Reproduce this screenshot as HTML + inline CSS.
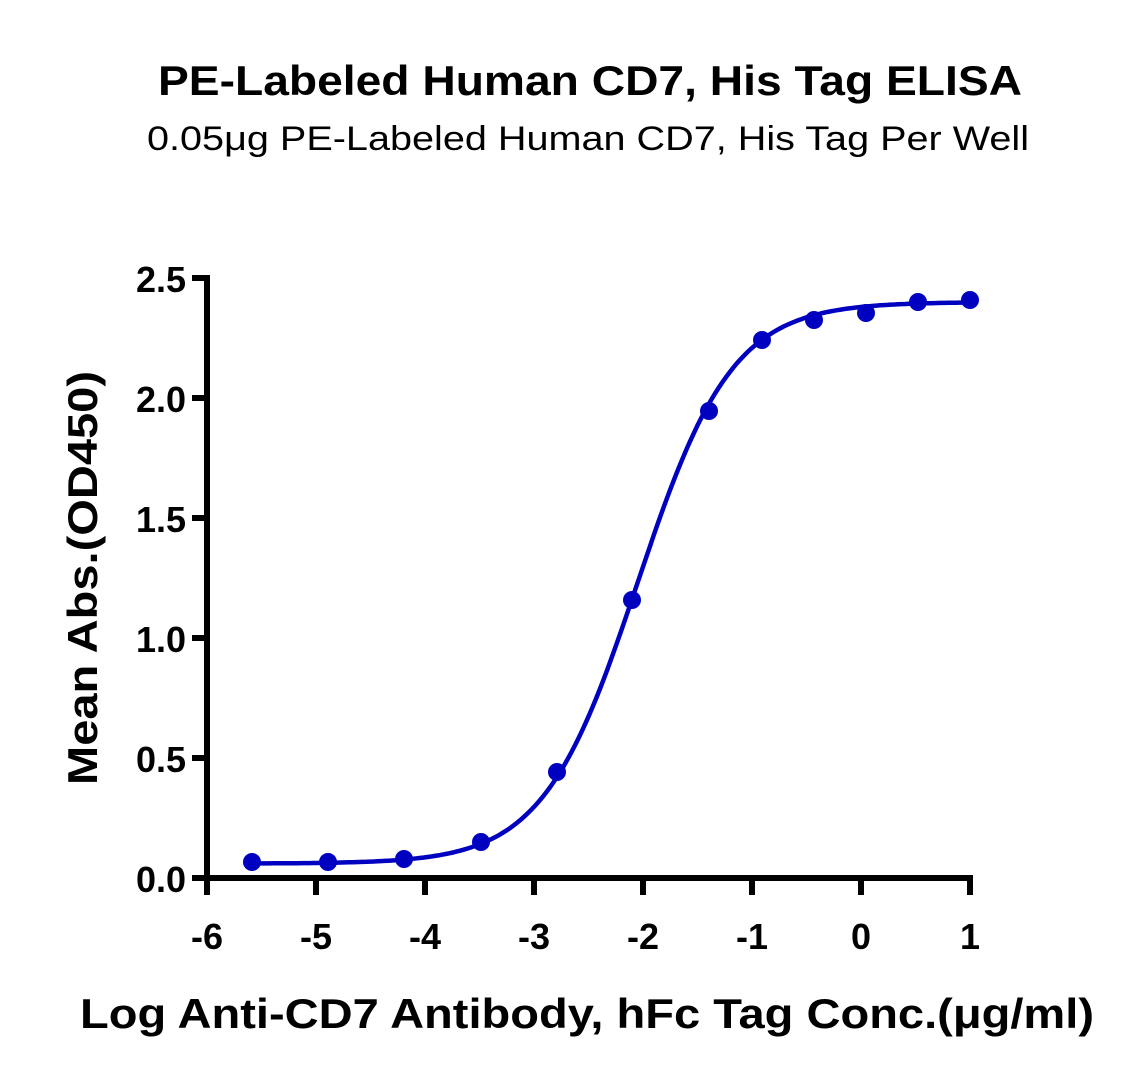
<!DOCTYPE html>
<html><head><meta charset="utf-8"><style>
html,body{margin:0;padding:0;background:#fff;}
svg{display:block;}
text{font-family:"Liberation Sans",sans-serif;fill:#000;}
</style></head><body>
<svg id="s" width="1141" height="1077" viewBox="0 0 1141 1077" xmlns="http://www.w3.org/2000/svg">
<text x="590" y="95" text-anchor="middle" font-size="42" font-weight="bold" textLength="864" lengthAdjust="spacingAndGlyphs">PE-Labeled Human CD7, His Tag ELISA</text>
<text x="588" y="150" text-anchor="middle" font-size="34" textLength="882" lengthAdjust="spacingAndGlyphs">0.05μg PE-Labeled Human CD7, His Tag Per Well</text>
<g stroke="#000" stroke-width="6" fill="none">
<line x1="207" y1="275" x2="207" y2="881"/>
<line x1="204" y1="878" x2="973" y2="878"/>
<line x1="192" y1="278" x2="207" y2="278"/>
<line x1="192" y1="398" x2="207" y2="398"/>
<line x1="192" y1="518" x2="207" y2="518"/>
<line x1="192" y1="638" x2="207" y2="638"/>
<line x1="192" y1="758" x2="207" y2="758"/>
<line x1="192" y1="878" x2="207" y2="878"/>
<line x1="207" y1="878" x2="207" y2="895"/>
<line x1="316" y1="878" x2="316" y2="895"/>
<line x1="425" y1="878" x2="425" y2="895"/>
<line x1="534" y1="878" x2="534" y2="895"/>
<line x1="643" y1="878" x2="643" y2="895"/>
<line x1="752" y1="878" x2="752" y2="895"/>
<line x1="861" y1="878" x2="861" y2="895"/>
<line x1="970" y1="878" x2="970" y2="895"/>
</g>
<g font-size="36" font-weight="bold" text-anchor="end">
<text x="186" y="292">2.5</text><text x="186" y="412">2.0</text><text x="186" y="532">1.5</text>
<text x="186" y="652">1.0</text><text x="186" y="772">0.5</text><text x="186" y="892">0.0</text>
</g>
<g font-size="36" font-weight="bold" text-anchor="middle">
<text x="207" y="949">-6</text><text x="316" y="949">-5</text><text x="425" y="949">-4</text><text x="534" y="949">-3</text>
<text x="643" y="949">-2</text><text x="752" y="949">-1</text><text x="861" y="949">0</text><text x="970" y="949">1</text>
</g>
<text x="587" y="1028" text-anchor="middle" font-size="42" font-weight="bold" textLength="1014" lengthAdjust="spacingAndGlyphs">Log Anti-CD7 Antibody, hFc Tag Conc.(μg/ml)</text>
<text transform="translate(97,578) rotate(-90)" text-anchor="middle" font-size="42" font-weight="bold" textLength="414" lengthAdjust="spacingAndGlyphs">Mean Abs.(OD450)</text>
<path id="curve" fill="none" stroke="#0000c0" stroke-width="4.5"/>
<g id="pts" fill="#0000c0"></g>
</svg>
<script>
var X=function(v){return 207+(v+6)*109;},Y=function(v){return 878-v*240;};
var f=function(x){return 0.06+2.34/(1+Math.pow(10,-2.05-x));};
var d="";for(var i=0;i<=200;i++){var x=-5.59+i*(6.59/200);d+=(i?"L":"M")+X(x).toFixed(1)+","+Y(f(x)).toFixed(1);}
document.getElementById("curve").setAttribute("d",d);
var P=[[252,862],[328,862],[404,859],[481,842],[557,772],[632,600],[709,411],[762,340],[814,320],[866,313],[918,302],[970,300]];
var g=document.getElementById("pts"),h="";
P.forEach(function(p){h+='<circle cx="'+p[0]+'" cy="'+p[1]+'" r="9"/>';});g.innerHTML=h;
</script>
</body></html>
